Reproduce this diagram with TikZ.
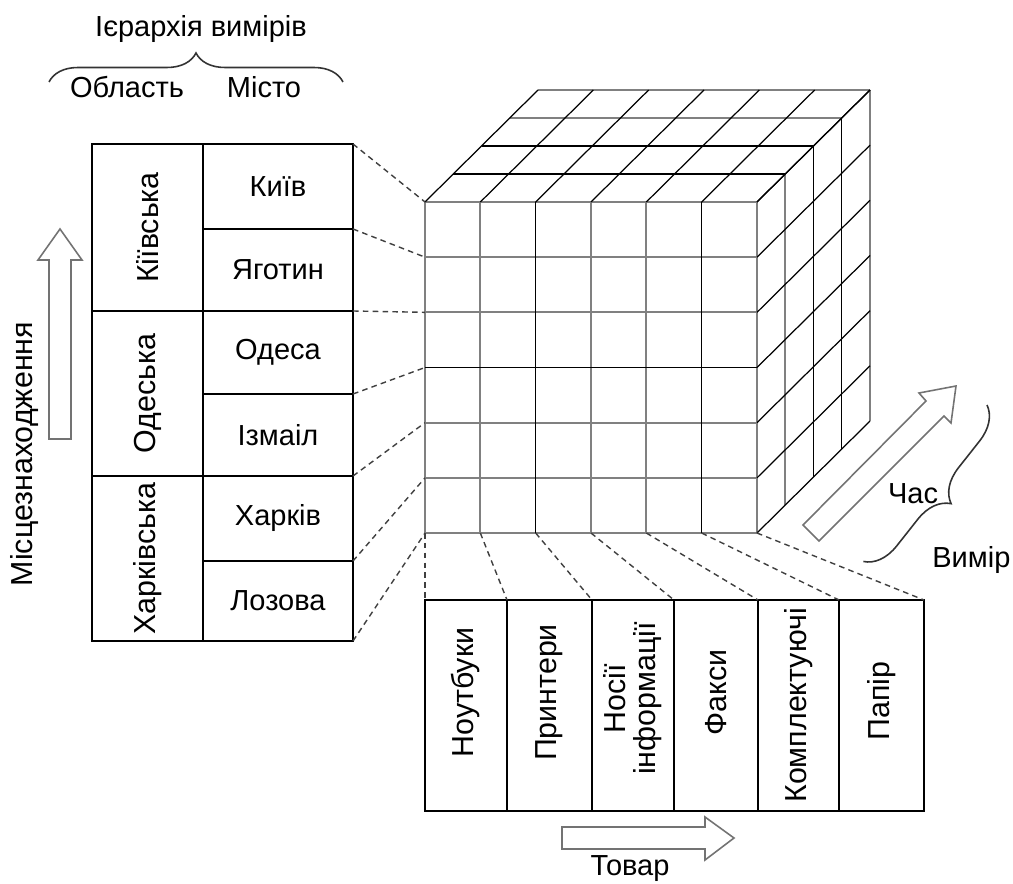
\documentclass[tikz,border=0pt]{standalone}
\usepackage{fontspec}
\setmainfont{Liberation Sans}
\usetikzlibrary{decorations.pathreplacing,calc}

% upright text size and the slightly larger size of the turned labels
\newcommand{\uprightsize}{\fontsize{16.5}{19}\selectfont}
\newcommand{\turnedsize}{\fontsize{17.3}{19}\selectfont}
% a turned label, moved up along the cell by #1 (in cm)
\newcommand{\turned}[2]{\rotatebox{90}{\turnedsize\hspace*{#1}#2}}

\begin{document}
\begin{tikzpicture}[x=0.02cm,y=-0.02cm,
  txt/.style={font=\uprightsize, inner sep=0pt},
  cell/.style 2 args={draw, line width=0.85pt, inner sep=0pt, outer sep=0pt,
    minimum width={#1*0.02cm}, minimum height={#2*0.02cm},
    font=\uprightsize, align=center},
  link/.style={draw=black!75, line width=0.8pt, dash pattern=on 3.2pt off 2.4pt},
  gridlite/.style={draw=black!50, line width=1.1pt},
  griddark/.style={draw=black, line width=0.7pt},
  blockarrow/.style={draw=black!55, line width=0.9pt, line join=miter},
  bracedeco/.style={draw=black!80, line width=0.9pt, decorate,
    decoration={brace, amplitude=#1}},
]
\useasboundingbox (0,0) rectangle (1013,884);

% ---------- dimension hierarchy heading ----------
\node[txt] (hier) at (201,29) {Ієрархія вимірів};
\coordinate (brL) at (49,82);
\coordinate (brR) at (343,82);
\draw[bracedeco=0.58cm] (brL) -- (brR);
\node[txt] (oblast) at (127,87) {Область};
\node[txt] (misto) at (264,87) {Місто};

% ---------- location table ----------
\node[cell={111}{167}] (kiv) at (147.5,227.5) {\turned{0cm}{Кіївська}};
\node[cell={111}{165}] (ode) at (147.5,393.5) {\turned{0cm}{Одеська}};
\node[cell={111}{165}] (kha) at (147.5,558.5) {\turned{0cm}{Харківська}};
\node[cell={150}{85}] (kyiv)    at (278,186.5) {Київ};
\node[cell={150}{82}] (yahotyn) at (278,270)   {Яготин};
\node[cell={150}{83}] (odesa)   at (278,352.5) {Одеса};
\node[cell={150}{82}] (izmail)  at (278,435)   {Ізмаіл};
\node[cell={150}{85}] (kharkiv) at (278,518.5) {Харків};
\node[cell={150}{80}] (lozova)  at (278,601)   {Лозова};

% location axis arrow
\draw[blockarrow] (49,439) -- (49,260) -- (38,260) -- (60,229) -- (82,260)
  -- (71,260) -- (71,439) -- cycle;
\node[inner sep=0pt, rotate=90, font=\turnedsize] (loc) at (25,454) {Місцезнаходження};

% ---------- data cube ----------
% light grid lines
\foreach \i in {0,1,2,4,5,6}
  \draw[gridlite] (425,{202+55.17*\i}) -- (757,{202+55.17*\i});
\foreach \j in {0,1,3,4,6}
  \draw[gridlite] ({425+55.33*\j},202) -- ({425+55.33*\j},533);
\foreach \d in {3,4}
  \draw[gridlite] ({425+28.25*\d},{202-28*\d}) -- ({757+28.25*\d},{202-28*\d});
\foreach \d in {1,4}
  \draw[gridlite] ({757+28.25*\d},{202-28*\d}) -- ({757+28.25*\d},{533-28*\d});
% dark grid lines
\draw[griddark] (425,367.5) -- (757,367.5);
\foreach \j in {2,5}
  \draw[griddark] ({425+55.33*\j},202) -- ({425+55.33*\j},533);
\foreach \d in {1,2}
  \draw[griddark] ({425+28.25*\d},{202-28*\d}) -- ({757+28.25*\d},{202-28*\d});
\foreach \d in {2,3}
  \draw[griddark] ({757+28.25*\d},{202-28*\d}) -- ({757+28.25*\d},{533-28*\d});
\foreach \j in {0,...,6}
  \draw[griddark] ({425+55.33*\j},202) -- ++(113,-112);
\foreach \i in {0,...,6}
  \draw[griddark] (757,{202+55.17*\i}) -- ++(113,-112);

% anchor points on the cube edges
\foreach \i in {0,...,6}
  \coordinate (f\i) at (425,{202+55.17*\i});
\foreach \j in {0,...,6}
  \coordinate (b\j) at ({425+55.33*\j},533);

% ---------- product table ----------
\node[cell={82}{211}] (p1) at (466,705.5)   {\turned{0.52cm}{Ноутбуки}};
\node[cell={85}{211}] (p2) at (549.5,705.5) {\turned{0.52cm}{Принтери}};
\node[cell={82}{211}] (p3) at (633,705.5)
  {\rotatebox{90}{\turnedsize\hspace*{0.28cm}\fontsize{17.3}{15}\selectfont
    \begin{tabular}{@{}c@{}}Носії\\інформації\end{tabular}}};
\node[cell={84}{211}] (p4) at (716,705.5)   {\turned{0.52cm}{Факси}};
\node[cell={81}{211}] (p5) at (798.5,705.5) {\turned{0cm}{Комплектуючі}};
\node[cell={85}{211}] (p6) at (881.5,705.5) {\turned{0.18cm}{Папір}};

% product axis arrow
\draw[blockarrow] (562,827) -- (705,827) -- (705,817) -- (734,838) -- (705,860)
  -- (705,849) -- (562,849) -- cycle;
\node[txt] (goods) at (630,869) {Товар};

% ---------- time axis ----------
\draw[blockarrow] (803,525) -- (926,401) -- (919,393) -- (956,386) -- (951,423)
  -- (944,416) -- (819,541) -- cycle;
\node[txt] (time) at (913,494) {Час};
\coordinate (tbT) at (987,405);
\coordinate (tbB) at (863,562);
\draw[bracedeco=0.66cm] (tbT) -- (tbB);
\node[txt, anchor=west] (dim) at (932,560) {Вимір};

% ---------- dashed links: location members ----------
\draw[link] (kyiv.north east)    -- (f0);
\draw[link] (yahotyn.north east) -- (f1);
\draw[link] (odesa.north east)   -- (f2);
\draw[link] (izmail.north east)  -- (f3);
\draw[link] (kharkiv.north east) -- (f4);
\draw[link] (lozova.north east)  -- (f5);
\draw[link] (lozova.south east)  -- (f6);

% ---------- dashed links: product members ----------
\draw[link] (b0) -- (p1.north west);
\draw[link] (b1) -- (p2.north west);
\draw[link] (b2) -- (p3.north west);
\draw[link] (b3) -- (p4.north west);
\draw[link] (b4) -- (p5.north west);
\draw[link] (b5) -- (p6.north west);
\draw[link] (b6) -- (p6.north east);
\end{tikzpicture}
\end{document}
